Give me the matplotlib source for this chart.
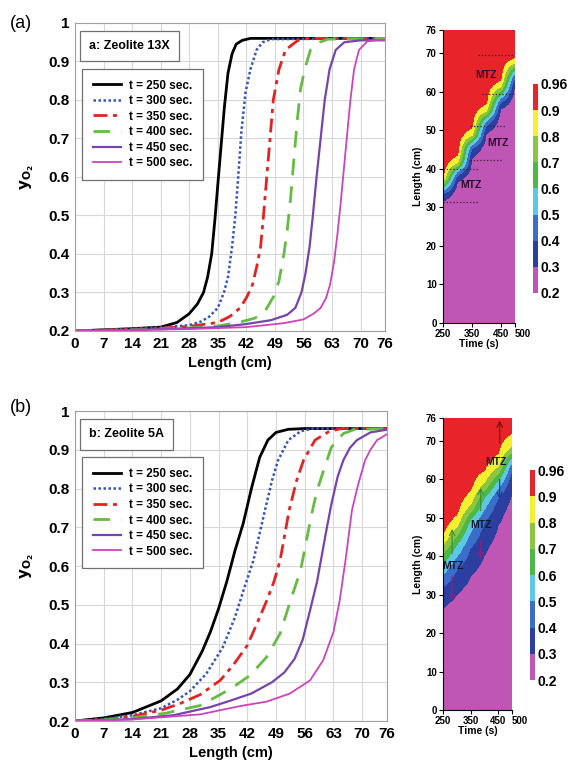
import numpy as np
import matplotlib
matplotlib.use('Agg')
import matplotlib.pyplot as plt
from matplotlib.colors import ListedColormap

plt.rcParams['font.family'] = ['Liberation Sans', 'DejaVu Sans']
plt.rcParams['font.weight'] = 'bold'
plt.rcParams['mathtext.fontset'] = 'dejavusans'

# ---------------- data ----------------
times = [250, 300, 350, 400, 450, 500]
legend_labels = ['t = 250 sec.', 't = 300 sec.', 't = 350 sec.',
                 't = 400 sec.', 't = 450 sec.', 't = 500 sec.']

# (a) Zeolite 13X : length (cm) and y_O2 for each time
La_250 = [0, 7, 14, 21, 25, 28, 30, 31.5, 32.5, 33.5, 34.3, 35, 35.8, 36.6, 37.5, 38.5, 39.5, 41, 43, 76]
ya_250 = [0.200, 0.203, 0.206, 0.210, 0.222, 0.245, 0.27, 0.30, 0.34, 0.40, 0.49, 0.58, 0.68, 0.78, 0.87, 0.92, 0.945, 0.955, 0.96, 0.96]
La_300 = [0, 7, 14, 21, 28, 31, 33, 35, 36.5, 37.5, 38.5, 39.3, 40, 40.8, 41.8, 43, 44.5, 46, 48, 76]
ya_300 = [0.200, 0.203, 0.206, 0.209, 0.215, 0.225, 0.238, 0.26, 0.30, 0.34, 0.42, 0.50, 0.60, 0.72, 0.82, 0.88, 0.93, 0.95, 0.958, 0.96]
La_350 = [0, 14, 21, 28, 35, 38, 40.5, 42.2, 43.5, 44.6, 45.5, 46.2, 47, 47.8, 48.6, 50, 51.6, 54.5, 57, 76]
ya_350 = [0.200, 0.204, 0.207, 0.212, 0.222, 0.238, 0.26, 0.29, 0.32, 0.37, 0.42, 0.50, 0.60, 0.70, 0.80, 0.88, 0.93, 0.954, 0.96, 0.96]
La_400 = [0, 14, 28, 35, 40, 44, 46.5, 48.7, 50, 51.2, 52, 52.8, 53.6, 54.5, 55.3, 56.3, 57.7, 60, 62, 76]
ya_400 = [0.200, 0.203, 0.208, 0.213, 0.222, 0.233, 0.25, 0.29, 0.33, 0.40, 0.46, 0.54, 0.64, 0.75, 0.83, 0.88, 0.93, 0.95, 0.958, 0.96]
La_450 = [0, 14, 28, 35, 42, 48, 52, 54, 55.5, 56.5, 57.5, 58.3, 59.2, 60.2, 61.2, 62.4, 63.9, 66, 70, 76]
ya_450 = [0.200, 0.203, 0.207, 0.210, 0.218, 0.228, 0.242, 0.26, 0.30, 0.35, 0.42, 0.50, 0.60, 0.70, 0.80, 0.88, 0.93, 0.95, 0.955, 0.955]
La_500 = [0, 14, 28, 42, 51, 56, 58.5, 60.2, 61.5, 62.5, 63.5, 64.3, 65, 65.8, 66.6, 67.5, 68.4, 69.6, 71.6, 74, 76]
ya_500 = [0.200, 0.202, 0.205, 0.210, 0.220, 0.230, 0.245, 0.26, 0.285, 0.32, 0.38, 0.45, 0.52, 0.61, 0.70, 0.80, 0.88, 0.93, 0.952, 0.956, 0.956]

# (b) Zeolite 5A
Lb_250 = [0, 7, 14, 21, 25, 28, 31, 33, 35, 37, 39, 41, 43, 45, 47, 49, 52, 56, 76]
yb_250 = [0.200, 0.208, 0.222, 0.252, 0.283, 0.32, 0.38, 0.43, 0.49, 0.56, 0.64, 0.71, 0.80, 0.88, 0.925, 0.945, 0.953, 0.955, 0.955]
Lb_300 = [0, 7, 14, 21, 25, 28, 32, 36, 39, 41, 43.5, 46.3, 48, 49.5, 52, 55, 58, 76]
yb_300 = [0.200, 0.205, 0.215, 0.233, 0.255, 0.277, 0.322, 0.39, 0.468, 0.535, 0.615, 0.744, 0.82, 0.873, 0.925, 0.948, 0.955, 0.955]
Lb_350 = [0, 7, 14, 21, 25.6, 30.5, 35.4, 38.6, 42, 44.3, 46.7, 48.5, 50, 52.2, 54, 55.7, 58.5, 62, 65, 76]
yb_350 = [0.200, 0.204, 0.212, 0.228, 0.245, 0.268, 0.305, 0.345, 0.395, 0.45, 0.51, 0.56, 0.615, 0.744, 0.82, 0.873, 0.925, 0.948, 0.955, 0.955]
Lb_400 = [0, 7, 14, 22, 30.5, 35.4, 38.6, 42.7, 46.7, 50, 52.5, 55, 57.7, 59, 61, 62.5, 65.4, 68, 76]
yb_400 = [0.200, 0.203, 0.208, 0.220, 0.240, 0.268, 0.288, 0.318, 0.365, 0.426, 0.51, 0.59, 0.735, 0.795, 0.86, 0.907, 0.942, 0.952, 0.955]
Lb_450 = [0, 14, 24, 33, 38, 43, 48, 51, 53.5, 55.5, 57.3, 59, 61.4, 62.5, 64, 65.4, 67, 68.7, 72, 76]
yb_450 = [0.200, 0.205, 0.215, 0.236, 0.253, 0.271, 0.300, 0.325, 0.36, 0.41, 0.486, 0.56, 0.70, 0.76, 0.83, 0.873, 0.905, 0.925, 0.945, 0.952]
Lb_500 = [0, 14, 24, 30.5, 35.4, 41, 46.7, 52.4, 57.3, 60.5, 63, 64.5, 66, 67.5, 69, 70.7, 72, 73.6, 76]
yb_500 = [0.200, 0.204, 0.212, 0.217, 0.228, 0.240, 0.250, 0.271, 0.305, 0.357, 0.43, 0.51, 0.62, 0.744, 0.81, 0.873, 0.90, 0.925, 0.94]

x_ticks = [0, 7, 14, 21, 28, 35, 42, 49, 56, 63, 70, 76]
y_ticks = [0.2, 0.3, 0.4, 0.5, 0.6, 0.7, 0.8, 0.9, 1.0]
y_tick_labels = ['0.2', '0.3', '0.4', '0.5', '0.6', '0.7', '0.8', '0.9', '1']
cbar_levels = [0.2, 0.3, 0.4, 0.5, 0.6, 0.7, 0.8, 0.9, 0.96]
map_x_ticks = [250, 350, 450, 500]
map_y_ticks = [0, 10, 20, 30, 40, 50, 60, 70, 76]

# ---------------- styles ----------------
colors = ['black', '#3355bb', '#e52222', '#66bb44', '#7744aa', '#cc44bb']
styles = ['-', (0, (1, 1)), (0, (5, 2, 1.5, 2)), (0, (6, 4)), '-', '-']
widths = [2.0, 1.8, 2.0, 2.0, 1.6, 1.3]
level_colors = ['#bf55b4', '#2a3fa0', '#3a6ec8', '#5cc8e6',
                '#4cb848', '#8cc640', '#f4f030', '#e8232a']
cmap = ListedColormap(level_colors)

fig = plt.figure(figsize=(5.68, 7.69), dpi=100)


def line_panel(rect, curves, title):
    ax = fig.add_axes(rect)
    for (L, y), lab, c, ls, lw in zip(curves, legend_labels, colors, styles, widths):
        ax.plot(L, y, color=c, linestyle=ls, linewidth=lw, label=lab)
    ax.set_xlim(0, 76)
    ax.set_ylim(0.2, 1.0)
    ax.set_xticks(x_ticks)
    ax.set_yticks(y_ticks)
    ax.set_yticklabels(y_tick_labels)
    ax.tick_params(length=0, labelsize=11, pad=4)
    ax.grid(True, color='#d8d8d8', linewidth=0.8)
    ax.set_axisbelow(True)
    for s in ax.spines.values():
        s.set_color('#a0a0a0')
    ax.set_xlabel('Length (cm)', fontsize=10.5, fontweight='bold', labelpad=4)
    ax.set_ylabel(r'$\mathbf{y_{O_2}}$', fontsize=11, labelpad=9)
    ax.text(0.045, 0.925, title, transform=ax.transAxes, fontsize=9,
            fontweight='bold', va='center', ha='left',
            bbox=dict(boxstyle='square,pad=0.75', fc='white', ec='#707070', lw=0.9))
    leg = ax.legend(loc='upper left', bbox_to_anchor=(0.023, 0.851), borderaxespad=0,
                    fancybox=False, edgecolor='#707070', framealpha=1,
                    prop={'size': 8.5, 'weight': 'bold'}, handlelength=2.4,
                    labelspacing=0.3, borderpad=0.9, handletextpad=0.7)
    leg.get_frame().set_linewidth(0.9)
    return ax


def map_panel(rect, crect, curves):
    ax = fig.add_axes(rect)
    L_fine = np.linspace(0, 76, 381)
    Z = np.column_stack([np.interp(L_fine, L, y) for L, y in curves])
    Z = np.clip(Z, 0.2, 0.96)
    cs = ax.contourf(times, L_fine, Z, levels=cbar_levels, cmap=cmap)
    ax.set_xlim(250, 500)
    ax.set_ylim(0, 76)
    ax.set_xticks(map_x_ticks)
    ax.set_yticks(map_y_ticks)
    ax.tick_params(length=3, width=0.8, labelsize=7, pad=1.5)
    # last time label sits to the right of its tick, as in the original
    ax.get_xticklabels()[-1].set_horizontalalignment('left')
    ax.spines['top'].set_visible(False)
    ax.spines['right'].set_visible(False)
    ax.set_xlabel('Time (s)', fontsize=7.5, fontweight='bold', labelpad=0)
    ax.set_ylabel('Length (cm)', fontsize=7.5, fontweight='bold', labelpad=2)
    cax = fig.add_axes(crect)
    cb = fig.colorbar(cs, cax=cax, ticks=cbar_levels)
    cb.outline.set_visible(False)
    cb.ax.set_yticklabels([f'{v:g}' for v in cbar_levels])
    cb.ax.tick_params(length=0, labelsize=10, pad=2)
    return ax


curves_a = [(La_250, ya_250), (La_300, ya_300), (La_350, ya_350),
            (La_400, ya_400), (La_450, ya_450), (La_500, ya_500)]
curves_b = [(Lb_250, yb_250), (Lb_300, yb_300), (Lb_350, yb_350),
            (Lb_400, yb_400), (Lb_450, yb_450), (Lb_500, yb_500)]

line_panel([0.132, 0.5696, 0.546, 0.4005], curves_a, 'a: Zeolite 13X')
line_panel([0.132, 0.0624, 0.549, 0.403], curves_b, 'b: Zeolite 5A')

ma = map_panel([0.780, 0.580, 0.1268, 0.381], [0.9384, 0.619, 0.0088, 0.2718], curves_a)
mb = map_panel([0.780, 0.0767, 0.121, 0.380], [0.933, 0.1157, 0.0088, 0.273], curves_b)

# MTZ marks on map (a): dotted bounds
dotted_a = [(372, 500, 69.4), (385, 500, 59.4), (343, 469, 51.0),
            (343, 451, 42.4), (250, 372, 40.0), (250, 372, 31.5)]
for t0, t1, L in dotted_a:
    ma.plot([t0, t1], [L, L], color='#302030', linestyle=':', linewidth=0.9)
for t, L in [(400, 64.4), (441, 46.7), (348, 35.9)]:
    ma.text(t, L, 'MTZ', fontsize=7.5, fontweight='bold', color='#2a0a2a',
            ha='center', va='center')

# MTZ marks on map (b): arrows
arrows_b = [(456, 68.5, 76.0, '#6a1010'), (456, 60.7, 54.2, '#1a3a8a'),
            (387, 51.1, 58.5, '#3a8a3a'), (387, 44.7, 38.6, '#902080'),
            (283, 39.9, 47.8, '#3a8a3a'), (283, 35.5, 27.7, '#902080')]
for t, L0, L1, c in arrows_b:
    mb.annotate('', xy=(t, L1), xytext=(t, L0),
                arrowprops=dict(arrowstyle='->', color=c, lw=0.8))
for t, L in [(444, 64.5), (387, 48.1), (286, 37.4)]:
    mb.text(t, L, 'MTZ', fontsize=7.5, fontweight='bold', color='#101830',
            ha='center', va='center')

fig.text(21 / 568, 1 - 23 / 769, '(a)', fontsize=13, fontweight='normal',
         ha='center', va='center')
fig.text(21 / 568, 1 - 408 / 769, '(b)', fontsize=13, fontweight='normal',
         ha='center', va='center')

fig.savefig('out.png', dpi=100)
